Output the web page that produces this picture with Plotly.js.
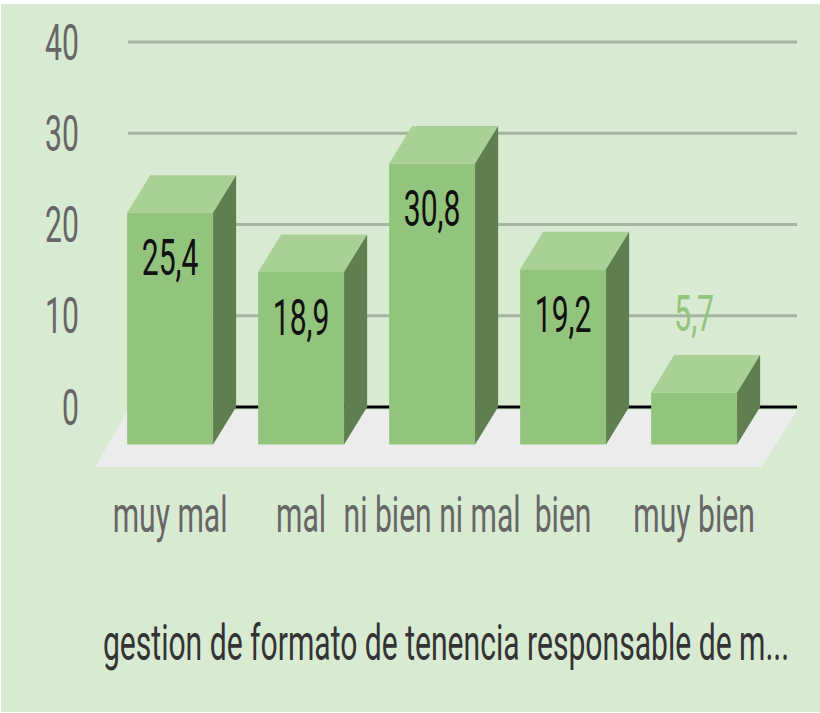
<!DOCTYPE html>
<html><head><meta charset="utf-8">
<script src="https://cdn.plot.ly/plotly-3.0.1.min.js"></script>
<style>
html,body{margin:0;padding:0;background:#fff;overflow:hidden;width:820px;height:713px}
#bg{position:absolute;left:1px;top:4px;width:819px;height:708px;background:#d9ead3}
#chart{position:absolute;left:0;top:0;transform-origin:0 0}
</style></head><body>
<div id="bg"></div><div id="chart"></div>
<script>
const categories = ["muy mal","mal","ni bien ni mal","bien","muy bien"];
const values = [25.4,18.9,30.8,19.2,5.7];
const yTicks = [0,10,20,30,40];
const axisTitle = "gestion de formato de tenencia responsable de m...";

const sx = 0.602;            // horizontal squeeze of the whole picture
const W = 820/sx, H = 713;
const barW = 0.656;          // bar width, in category steps
const depthX = 0.176;        // depth of the 3D offset, in category steps
const depthY = 4.1;          // depth of the 3D offset, in value units
const xs = categories.map((c,i)=>i);
const xR = [-0.5725,4.786], yR = [-6.575,41.1];
const fsz = 50;

const front = {type:'bar',x:xs,y:values,base:values.map(()=>-depthY),width:barW,
  marker:{color:'#93c47d',line:{width:0}},hoverinfo:'skip',showlegend:false,textposition:'none'};

function poly(pts,color){
  return {type:'scatter',mode:'lines',x:pts.map(p=>p[0]),y:pts.map(p=>p[1]),fill:'toself',
    fillcolor:color,line:{width:0,color:color},hoverinfo:'skip',showlegend:false};
}
const faces=[];
xs.forEach((x,i)=>{
  const v=values[i], L=x-barW/2, R=x+barW/2, t=v-depthY, b=-depthY;
  faces.push(poly([[L,t],[R,t],[R+depthX,v],[L+depthX,v],[L,t]],'#a9d196'));
  faces.push(poly([[R,t],[R+depthX,v],[R+depthX,0],[R,b],[R,t]],'#5f7f50'));
});

const isOutside = values.map(v=>v<10);
const labels = {type:'scatter',mode:'text',x:xs,
  y:values.map((v,i)=>isOutside[i]? v+4.0 : v-depthY-5.5),
  text:values.map(v=>v.toFixed(1).replace('.',',')),
  textposition:'middle center',cliponaxis:false,
  textfont:{family:'Roboto',size:fsz,color:isOutside.map(o=>o?'#93c47d':'#111111')},
  hoverinfo:'skip',showlegend:false};

const shapes=[
  {type:'path',xref:'x',yref:'y',layer:'below',line:{width:0},fillcolor:'#ececec',
   path:`M ${xR[0]} ${yR[0]} L ${xR[1]-0.27} ${yR[0]} L ${xR[1]} -0.35 L ${xR[0]+0.252} -0.35 Z`},
  ...yTicks.filter(t=>t>0).map(t=>({type:'line',xref:'x',yref:'y',layer:'below',
     x0:xR[0]+0.252,x1:xR[1],y0:t,y1:t,line:{color:'#a5b5a0',width:3}})),
  {type:'line',xref:'x',yref:'y',layer:'below',x0:xR[0]+0.252,x1:xR[1],y0:0,y1:0,line:{color:'#000000',width:3}}
];

const layout={
  width:W,height:H,margin:{l:95/sx,r:23/sx,t:32,b:246},
  paper_bgcolor:'rgba(0,0,0,0)',plot_bgcolor:'rgba(0,0,0,0)',showlegend:false,
  font:{family:'Roboto',size:fsz,color:'#666666'},
  shapes,
  xaxis:{type:'linear',range:xR,tickmode:'array',tickvals:xs,ticktext:categories,showgrid:false,zeroline:false,
    showline:false,ticks:'outside',ticklen:4,tickcolor:'rgba(0,0,0,0)',tickfont:{family:'Roboto',size:fsz,color:'#666666'},
    title:{text:axisTitle,standoff:82,font:{family:'Roboto',size:fsz,color:'#333333'}},automargin:false},
  yaxis:{range:yR,tickmode:'array',tickvals:yTicks,ticktext:yTicks.map(String),showgrid:false,zeroline:false,
    showline:false,ticks:'outside',ticklen:16,tickcolor:'rgba(0,0,0,0)',tickfont:{family:'Roboto',size:fsz,color:'#666666'},automargin:false}
};
const el=document.getElementById('chart');
el.style.transform=`scaleX(${sx})`;
Plotly.newPlot(el,[front,...faces,labels],layout,{displayModeBar:false,staticPlot:true});
</script></body></html>
